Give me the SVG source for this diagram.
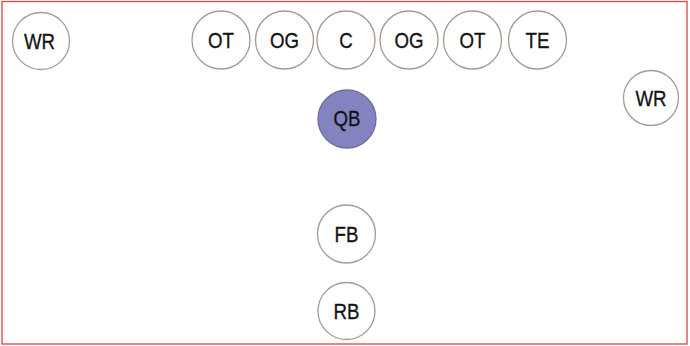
<svg xmlns="http://www.w3.org/2000/svg" width="690" height="346" viewBox="0 0 690 346">
<style>
.p circle{fill:#ffffff;stroke:#a8998f;stroke-width:1.3}
.qb circle{fill:#8383c2;stroke:#6e6e9e}
text{font-family:"Liberation Sans",Arial,sans-serif;font-size:22.5px;fill:#141414;stroke:#141414;stroke-width:0.35;text-anchor:middle;dominant-baseline:central}
</style>
<rect x="2" y="1.5" width="685" height="342.5" fill="#ffffff" stroke="#d5474b" stroke-width="1.3"/>
<g id="wr-left" class="p"><circle cx="41" cy="41" r="28.5"/><text transform="translate(39.5 40.5) scale(0.83 1)">WR</text></g>
<g id="ot-left" class="p"><circle cx="221" cy="40" r="29"/><text transform="translate(221 40) scale(0.83 1)">OT</text></g>
<g id="og-left" class="p"><circle cx="284.5" cy="40" r="29"/><text transform="translate(284.5 40) scale(0.83 1)">OG</text></g>
<g id="c" class="p"><circle cx="346" cy="40" r="29"/><text transform="translate(346 40) scale(0.83 1)">C</text></g>
<g id="og-right" class="p"><circle cx="409" cy="40" r="29"/><text transform="translate(409 40) scale(0.83 1)">OG</text></g>
<g id="ot-right" class="p"><circle cx="472.5" cy="40" r="29"/><text transform="translate(472.5 40) scale(0.83 1)">OT</text></g>
<g id="te" class="p"><circle cx="537.5" cy="40" r="29"/><text transform="translate(537.5 40) scale(0.83 1)">TE</text></g>
<g id="qb" class="p qb"><circle cx="347" cy="119" r="29"/><text transform="translate(347 118) scale(0.83 1)">QB</text></g>
<g id="wr-right" class="p"><circle cx="651" cy="98" r="27.5"/><text transform="translate(651 98) scale(0.83 1)">WR</text></g>
<g id="fb" class="p"><circle cx="346.5" cy="234" r="29"/><text transform="translate(346.5 234) scale(0.83 1)">FB</text></g>
<g id="rb" class="p"><circle cx="346.5" cy="311" r="28.5"/><text transform="translate(346.5 311) scale(0.83 1)">RB</text></g>
<g id="connectors"/>
</svg>
